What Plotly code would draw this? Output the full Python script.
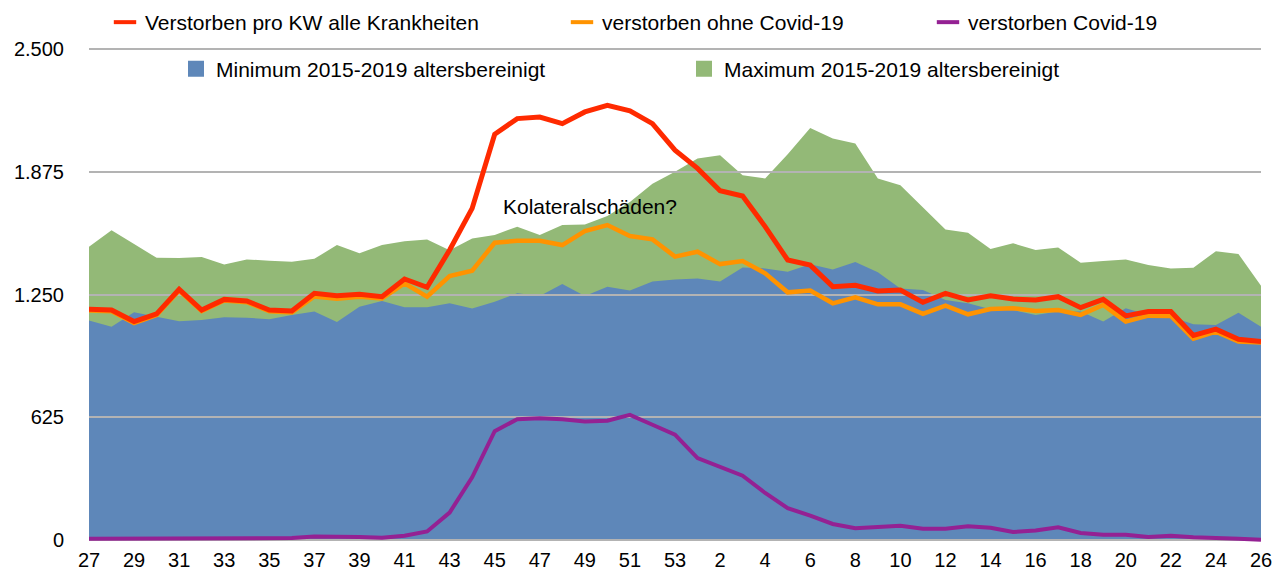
import plotly.graph_objects as go

# ---------------- data ----------------
weeks = [27, 28, 29, 30, 31, 32, 33, 34, 35, 36, 37, 38, 39, 40, 41, 42, 43, 44,
         45, 46, 47, 48, 49, 50, 51, 52, 53, 1, 2, 3, 4, 5, 6, 7, 8, 9, 10, 11,
         12, 13, 14, 15, 16, 17, 18, 19, 20, 21, 22, 23, 24, 25, 26]

min_2015_2019 = [1117, 1085, 1159, 1137, 1113, 1120, 1134, 1132, 1124, 1146, 1163,
                 1110, 1188, 1217, 1185, 1185, 1205, 1178, 1213, 1256, 1242, 1303,
                 1242, 1290, 1270, 1316, 1327, 1332, 1316, 1388, 1383, 1366, 1404,
                 1378, 1416, 1363, 1281, 1273, 1222, 1205, 1175, 1171, 1146, 1163,
                 1163, 1112, 1180, 1146, 1137, 1098, 1095, 1157, 1086]

max_2015_2019 = [1493, 1578, 1507, 1437, 1436, 1441, 1403, 1429, 1422, 1417, 1432,
                 1502, 1460, 1502, 1521, 1531, 1475, 1536, 1553, 1596, 1553, 1604,
                 1607, 1650, 1722, 1815, 1876, 1943, 1960, 1858, 1842, 1965, 2099,
                 2045, 2020, 1842, 1807, 1697, 1582, 1565, 1482, 1511, 1477, 1490,
                 1412, 1421, 1429, 1400, 1383, 1387, 1471, 1456, 1295]

verstorben_alle = [1175, 1171, 1112, 1151, 1276, 1171, 1225, 1217, 1171, 1166, 1256,
                   1244, 1251, 1239, 1329, 1287, 1477, 1689, 2067, 2147, 2155, 2121,
                   2181, 2215, 2186, 2121, 1986, 1893, 1779, 1752, 1596, 1426, 1400,
                   1290, 1297, 1268, 1273, 1210, 1256, 1222, 1244, 1227, 1222, 1239,
                   1183, 1225, 1141, 1163, 1163, 1041, 1073, 1022, 1010]

verstorben_ohne_covid = [1168, 1165, 1105, 1145, 1270, 1165, 1219, 1211, 1165, 1158, 1240,
                         1228, 1238, 1230, 1307, 1239, 1344, 1371, 1514, 1524, 1524, 1502,
                         1573, 1604, 1548, 1531, 1443, 1468, 1405, 1421, 1358, 1261, 1270,
                         1205, 1236, 1200, 1200, 1151, 1193, 1149, 1176, 1180, 1166, 1171,
                         1146, 1197, 1112, 1142, 1141, 1025, 1061, 1010, 1005]

verstorben_covid = [5, 5, 6, 6, 6, 6, 6, 6, 5, 8, 16, 17, 14, 10, 20, 42, 138, 318,
                    553, 614, 619, 614, 602, 606, 636, 586, 535, 416, 373, 326, 238,
                    161, 122, 80, 58, 62, 71, 56, 56, 68, 61, 39, 47, 63, 34, 25, 25,
                    14, 20, 12, 10, 5, 0]

y_tick_values = [0, 625, 1250, 1875, 2500]
y_tick_labels = ["0", "625", "1.250", "1.875", "2.500"]

names = {
    "alle": "Verstorben pro KW alle Krankheiten",
    "ohne": "verstorben ohne Covid-19",
    "covid": "verstorben Covid-19",
    "min": "Minimum 2015-2019 altersbereinigt",
    "max": "Maximum 2015-2019 altersbereinigt",
}
annotation_text = "Kolateralschäden?"

# ---------------- style ----------------
C_RED = "#ff2a00"
C_ORANGE = "#ff9300"
C_PURPLE = "#942193"
C_BLUE = "#5e87b9"
C_GREEN = "#93b977"
C_GRID = "#b3b3b3"
FONT = "Liberation Sans, Arial, Helvetica, sans-serif"

W, H = 1282, 572
ML, MR, MT, MB = 89, 21, 47, 30
Y_RANGE = [-12, 2512]

idx = list(range(len(weeks)))

fig = go.Figure()

# areas on the lower subplot (below the gridlines)
fig.add_trace(go.Scatter(x=idx, y=max_2015_2019, mode="lines", fill="tozeroy",
                         fillcolor=C_GREEN, line=dict(width=0, color=C_GREEN),
                         showlegend=False, xaxis="x", yaxis="y", name=names["max"]))
fig.add_trace(go.Scatter(x=idx, y=min_2015_2019, mode="lines", fill="tozeroy",
                         fillcolor=C_BLUE, line=dict(width=0, color=C_BLUE),
                         showlegend=False, xaxis="x", yaxis="y", name=names["min"]))

# lines on the upper subplot (above the gridlines)
fig.add_trace(go.Scatter(x=idx, y=verstorben_covid, mode="lines",
                         line=dict(width=4, color=C_PURPLE),
                         showlegend=False, xaxis="x2", yaxis="y2", name=names["covid"]))
fig.add_trace(go.Scatter(x=idx, y=verstorben_ohne_covid, mode="lines",
                         line=dict(width=4.5, color=C_ORANGE),
                         showlegend=False, xaxis="x2", yaxis="y2", name=names["ohne"]))
fig.add_trace(go.Scatter(x=idx, y=verstorben_alle, mode="lines",
                         line=dict(width=5, color=C_RED),
                         showlegend=False, xaxis="x2", yaxis="y2", name=names["alle"]))

# legend entries (text start x in px, centre y in px)
legend_items = [
    ("alle", C_RED, "line-ew", "legend", 145, 22.5),
    ("ohne", C_ORANGE, "line-ew", "legend2", 602, 22.5),
    ("covid", C_PURPLE, "line-ew", "legend3", 968, 22.5),
    ("min", C_BLUE, "square", "legend4", 216, 69),
    ("max", C_GREEN, "square", "legend5", 724, 69),
]
legend_layout = {}
for key, col, sym, lg, tx, ty in legend_items:
    if sym == "square":
        marker = dict(symbol="square", size=16, color=col, line=dict(width=0))
    else:
        marker = dict(symbol="line-ew", size=16, color=col,
                      line=dict(width=4, color=col))
    fig.add_trace(go.Scatter(x=[None], y=[None], mode="markers", marker=marker,
                             name=names[key], legend=lg, xaxis="x2", yaxis="y2"))
    legend_layout[lg] = dict(
        xref="container", yref="container",
        x=(tx - 40) / W, y=1 - ty / H, xanchor="left", yanchor="middle",
        bgcolor="rgba(0,0,0,0)", borderwidth=0, itemwidth=30,
        font=dict(family=FONT, size=21, color="#000000"),
    )

fig.add_annotation(x=18.3, y=1697, xref="x2", yref="y2", text=annotation_text,
                   showarrow=False, xanchor="left", yanchor="middle",
                   font=dict(family=FONT, size=21, color="#000000"))

axis_common = dict(fixedrange=True, zeroline=False, showline=False)
fig.update_layout(
    width=W, height=H,
    margin=dict(l=ML, r=MR, t=MT, b=MB, pad=0, autoexpand=False),
    paper_bgcolor="#ffffff", plot_bgcolor="rgba(0,0,0,0)",
    font=dict(family=FONT, size=20, color="#000000"),
    hovermode=False,
    xaxis=dict(domain=[0, 1], range=[0, 52], showgrid=False, showticklabels=False,
               ticks="", anchor="y", **axis_common),
    yaxis=dict(domain=[0, 1], range=Y_RANGE, showgrid=False, showticklabels=False,
               ticks="", anchor="x", **axis_common),
    xaxis2=dict(domain=[0, 1], range=[0, 52], anchor="y2", showgrid=False,
                tickmode="array", tickvals=idx[::2], ticktext=[str(w) for w in weeks[::2]],
                ticks="", ticklabelstandoff=4,
                tickfont=dict(family=FONT, size=20, color="#000000"), **axis_common),
    yaxis2=dict(domain=[0, 1], range=Y_RANGE, anchor="x2", showgrid=True,
                gridcolor=C_GRID, gridwidth=2,
                tickmode="array", tickvals=y_tick_values, ticktext=y_tick_labels,
                ticks="", ticklabelstandoff=24,
                tickfont=dict(family=FONT, size=20, color="#000000"), **axis_common),
    **legend_layout,
)

fig.write_html("out.html", config={"displayModeBar": False},
               post_script="document.body.style.margin='0';")
